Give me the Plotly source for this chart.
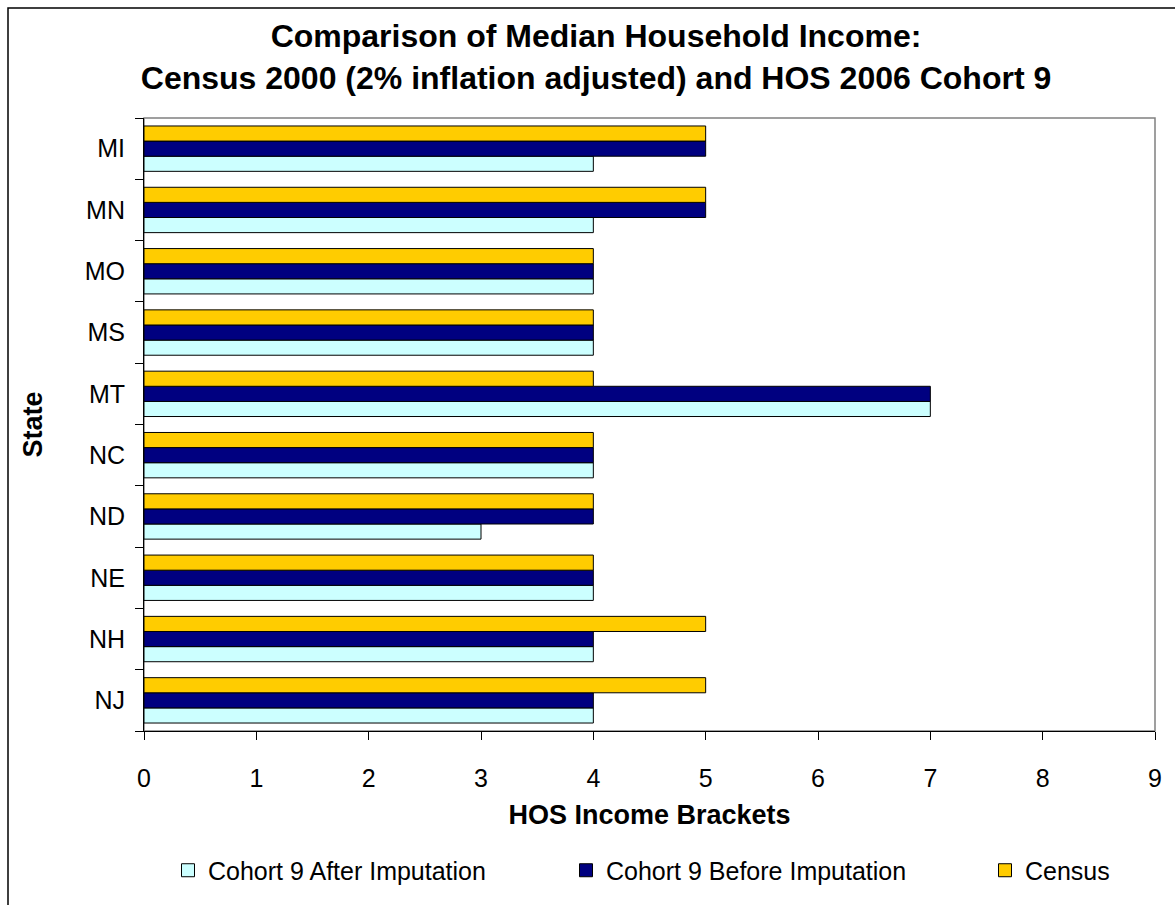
import plotly.graph_objects as go

states = ["MI", "MN", "MO", "MS", "MT", "NC", "ND", "NE", "NH", "NJ"]
after_imputation = [4, 4, 4, 4, 7, 4, 3, 4, 4, 4]
before_imputation = [5, 5, 4, 4, 7, 4, 4, 4, 4, 4]
census = [5, 5, 4, 4, 4, 4, 4, 4, 5, 5]
x_ticks = list(range(0, 10))

W, H = 1175, 905
L, R, T, B = 144, 20, 118, 163
pw, ph = W - L - R, H - T - B

def px_x(p):
    return (p - L) / pw

def px_y(p):
    return (H - B - p) / ph

FONT = "Arial, Liberation Sans, sans-serif"

series = [
    ("Cohort 9 After Imputation", after_imputation, "#CCFFFF", "legend"),
    ("Cohort 9 Before Imputation", before_imputation, "#000080", "legend2"),
    ("Census", census, "#FFCC00", "legend3"),
]

fig = go.Figure()
for name, vals, col, lg in series:
    fig.add_trace(go.Bar(
        y=states, x=vals, name=name, orientation="h",
        marker=dict(color=col, line=dict(color="black", width=1)),
        legend=lg, legendgroup=name, showlegend=False,
    ))
# legend entries with square swatches like the original
for name, vals, col, lg in series:
    fig.add_trace(go.Scatter(
        x=[None], y=[None], mode="markers", name=name,
        marker=dict(symbol="square", size=13, color=col, line=dict(color="black", width=1)),
        legend=lg, legendgroup=name, showlegend=True, hoverinfo="skip",
    ))

leg_common = dict(orientation="h", yanchor="middle", xanchor="left",
                  font=dict(family=FONT, size=25, color="black"),
                  bgcolor="rgba(0,0,0,0)", borderwidth=0, visible=True,
                  itemsizing="trace")
leg_y = px_y(884)

fig.update_layout(
    width=W, height=H,
    showlegend=True,
    margin=dict(l=L, r=R, t=T, b=B, pad=0),
    paper_bgcolor="white", plot_bgcolor="white",
    barmode="group", bargap=0.26, bargroupgap=0,
    font=dict(family=FONT, color="black"),
    title=dict(
        text="<b>Comparison of Median Household Income:<br>Census 2000 (2% inflation adjusted) and HOS 2006 Cohort 9</b>",
        font=dict(family=FONT, size=32, color="black"),
        x=596 / W, xanchor="center", xref="container",
        y=1 - 47 / H, yanchor="middle", yref="container",
    ),
    legend=dict(x=px_x(168), y=leg_y, **leg_common),
    legend2=dict(x=px_x(566), y=leg_y, **leg_common),
    legend3=dict(x=px_x(985), y=leg_y, **leg_common),
    xaxis=dict(
        range=[0, 9], tickvals=x_ticks, ticktext=[str(v) for v in x_ticks],
        showgrid=False, zeroline=False,
        showline=True, linecolor="black", linewidth=1,
        ticks="outside", ticklen=8, tickcolor="black", tickwidth=1,
        tickfont=dict(family=FONT, size=25, color="black"),
        ticklabelstandoff=17,
        title=dict(text="<b>HOS Income Brackets</b>", font=dict(family=FONT, size=27, color="black"), standoff=14),
        automargin=False,
    ),
    yaxis=dict(
        type="category", categoryorder="array", categoryarray=states[::-1],
        showgrid=False, zeroline=False,
        showline=True, linecolor="black", linewidth=1,
        ticks="outside", ticklen=8, tickcolor="black", tickwidth=1,
        tickson="boundaries",
        tickfont=dict(family=FONT, size=25, color="black"),
        ticklabelstandoff=13,
        title=dict(text="<b>State</b>", font=dict(family=FONT, size=27, color="black"), standoff=34),
        automargin=False,
    ),
    shapes=[
        dict(type="rect", xref="paper", yref="paper", x0=0, x1=1, y0=0, y1=1,
             line=dict(color="#808080", width=1.5), fillcolor="rgba(0,0,0,0)", layer="below"),
        dict(type="rect", xref="paper", yref="paper",
             x0=px_x(8), x1=px_x(W + 20), y0=px_y(H + 20), y1=px_y(6),
             line=dict(color="black", width=1.5), fillcolor="rgba(0,0,0,0)", layer="below"),
    ],
)

fig.write_html("out.html")
